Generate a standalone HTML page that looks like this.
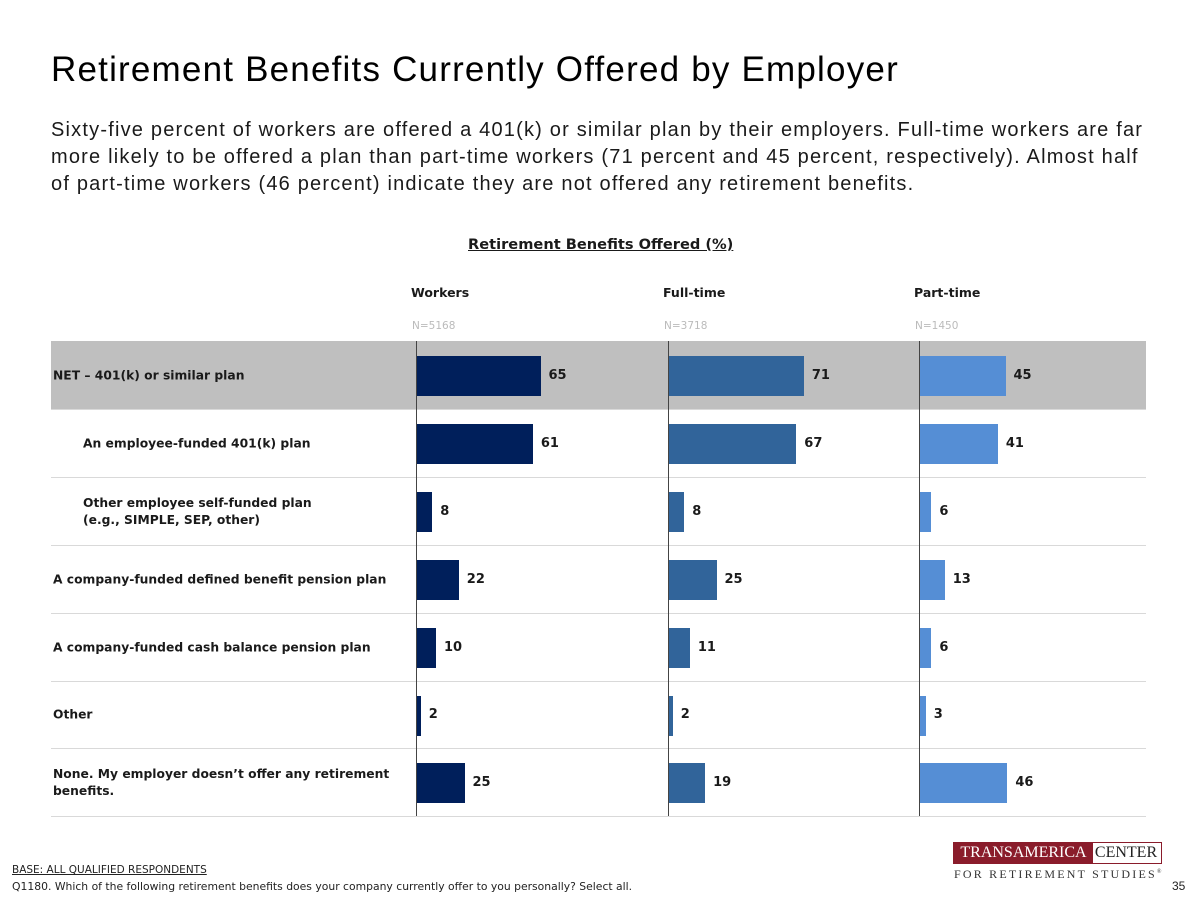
<!DOCTYPE html>
<html><head><meta charset="utf-8"><style>
body{margin:0;width:1200px;height:900px;background:#fff;position:relative;overflow:hidden;font-family:"Liberation Sans",sans-serif;color:#000}
.a{position:absolute;white-space:nowrap}
</style></head><body>
<div class="a" style="left:51px;top:50px;font-size:35px;letter-spacing:1.2px;color:#000">Retirement Benefits Currently Offered by Employer</div>
<div class="a" style="left:51px;top:117px;font-size:20px;line-height:27px;letter-spacing:1.2px;color:#1a1a1a">Sixty-five percent of workers are offered a 401(k) or similar plan by their employers. Full-time workers are far<br>more likely to be offered a plan than part-time workers (71 percent and 45 percent, respectively). Almost half<br>of part-time workers (46 percent) indicate they are not offered any retirement benefits.</div>
<div class="a" style="left:468px;top:236px;font-family:'DejaVu Sans',sans-serif;font-size:14.6px;font-weight:bold;text-decoration:underline;color:#1a1a1a">Retirement Benefits Offered (%)</div>
<div id="chart"></div>
<div class="a" style="left:12px;top:864px;font-family:'DejaVu Sans',sans-serif;font-size:10.5px;text-decoration:underline;color:#222">BASE: ALL QUALIFIED RESPONDENTS</div>
<div class="a" style="left:12px;top:880px;font-family:'DejaVu Sans',sans-serif;font-size:10.8px;color:#222">Q1180. Which of the following retirement benefits does your company currently offer to you personally? Select all.</div>
<div class="a" style="left:953px;top:842px;width:209px;height:22px;border:1px solid #8a1c2b;box-sizing:border-box;font-family:'Liberation Serif',serif;font-size:16px;line-height:20px">
<span style="display:inline-block;background:#8a1c2b;color:#fff;width:139px;text-align:center">TRANSAMERICA</span><span style="display:inline-block;width:66px;text-align:center;color:#222">CENTER</span></div>
<div class="a" style="left:954px;top:867px;font-family:'Liberation Serif',serif;font-size:12px;letter-spacing:2.2px;color:#333">FOR RETIREMENT STUDIES<sup style="font-size:6px">®</sup></div>
<div class="a" style="left:1172px;top:879px;font-size:12px;color:#222">35</div>
<script>
const categories=["NET – 401(k) or similar plan","An employee-funded 401(k) plan","Other employee self-funded plan<br>(e.g., SIMPLE, SEP, other)","A company-funded defined benefit pension plan","A company-funded cash balance pension plan","Other","None. My employer doesn’t offer any retirement<br>benefits."];
const indent=[false,true,true,false,false,false,false];
const groups=["Workers","Full-time","Part-time"];
const groupN=["N=5168","N=3718","N=1450"];
const workers=[65,61,8,22,10,2,25];
const fullTime=[71,67,8,25,11,2,19];
const partTime=[45,41,6,13,6,3,46];
const series=[workers,fullTime,partTime];
const colors=["#001f5b","#31649a","#558ed5"];
const chart=document.getElementById('chart');
const top0=341,rowH=67.9,pxPer=1.9,x0=[416,668,919];
const F="font-family:'DejaVu Sans',sans-serif;font-weight:bold;color:#1a1a1a;";
const xScale=(g,v)=>x0[g]+1+v*pxPer;
const yScale=i=>top0+i*rowH;
function el(style,html){const d=document.createElement('div');d.className='a';d.style.cssText=style;if(html!=null)d.innerHTML=html;chart.appendChild(d);return d;}
let band=el(`left:51px;top:${yScale(0)}px;width:1095px;height:${rowH}px;background:#bfbfbf`);


categories.forEach((c,i)=>{
  const y=yScale(i);
  const lab=el(F+`left:${indent[i]?83:53}px;top:${y+rowH/2+1}px;transform:translateY(-50%);font-size:12.3px;line-height:17px`,c);
  
  
  const sep=el(`left:51px;top:${y+rowH}px;width:1095px;height:1px;background:#d9d9d9`);
  
  
  series.forEach((s,g)=>{
    const w=s[i]*pxPer;
    const bar=el(`left:${x0[g]+1}px;top:${y+15}px;width:${w}px;height:40px;background:${colors[g]}`);
    
    
    const v=el(F+`left:${xScale(g,s[i])+8}px;top:${y+rowH/2-7}px;font-size:13px`,s[i]);
    
    
  });
});
groups.forEach((g,k)=>{
  const h=el(F+`left:${x0[k]-5}px;top:285px;font-size:12.5px`,g);
  
  
  const n=el(`left:${x0[k]-4}px;top:320px;font-family:'DejaVu Sans',sans-serif;font-size:10.5px;color:#bbb`,groupN[k]);
  
  
  const ax=el(`left:${x0[k]}px;top:${top0}px;width:1px;height:${rowH*7}px;background:#444`);
  
  
});
</script>
</body></html>
